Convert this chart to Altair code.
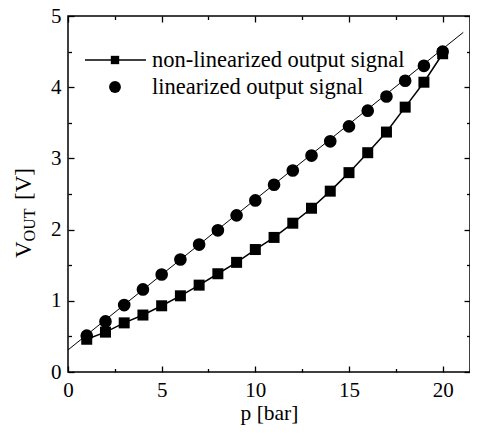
import altair as alt
import pandas as pd

# ---- data ----
p_bar = list(range(1, 21))
v_nonlinearized = [0.46, 0.56, 0.69, 0.80, 0.93, 1.07, 1.22, 1.38, 1.54, 1.72,
                   1.89, 2.09, 2.30, 2.54, 2.80, 3.08, 3.37, 3.72, 4.07, 4.47]
v_linearized = [0.51, 0.71, 0.94, 1.16, 1.37, 1.58, 1.79, 1.99, 2.20, 2.41,
                2.63, 2.83, 3.04, 3.24, 3.45, 3.67, 3.87, 4.09, 4.30, 4.50]
fit_p = [0.0, 21.1]
fit_v = [0.31, 4.77]

x_major = [0, 5, 10, 15, 20]
x_minor = [2.5, 7.5, 12.5, 17.5]
y_major = [0, 1, 2, 3, 4, 5]
y_minor = [0.5, 1.5, 2.5, 3.5, 4.5]

legend_labels = ["non-linearized output signal", "linearized output signal"]
x_title = "p [bar]"
y_title_parts = ["V", "OUT", "[V]"]

FONT = "'Liberation Serif', 'Times New Roman', Times, serif"

df = pd.DataFrame({"p": p_bar, "nonlin": v_nonlinearized, "lin": v_linearized})
fit_df = pd.DataFrame({"p": fit_p, "v": fit_v})

xscale = alt.Scale(domain=[0, 21.46], nice=False, zero=False)
yscale = alt.Scale(domain=[0, 5], nice=False, zero=False)

main_x_axis = alt.Axis(orient="bottom", values=x_major, ticks=False, tickSize=0, domain=False,
                       grid=False, labelFont=FONT, labelFontSize=21, labelColor="black",
                       labelPadding=7, labelFlush=False, title=x_title, titleFont=FONT,
                       titleFontSize=21.5, titleFontWeight="normal", titleColor="black",
                       titlePadding=2)
main_y_axis = alt.Axis(orient="left", values=y_major, ticks=False, tickSize=0, domain=False,
                       grid=False, labelFont=FONT, labelFontSize=21, labelColor="black",
                       labelPadding=7, labelFlush=False, title=None)

fit_line = alt.Chart(fit_df).mark_line(color="black", strokeWidth=1).encode(
    x=alt.X("p:Q", scale=xscale, axis=main_x_axis),
    y=alt.Y("v:Q", scale=yscale, axis=main_y_axis),
)


def tick_layer(ox, oy, xv, yv, size):
    return alt.Chart(fit_df).mark_line(opacity=0).encode(
        x=alt.X("p:Q", scale=xscale,
                axis=alt.Axis(orient=ox, values=xv, offset=-size, tickSize=size, tickWidth=1.3,
                              tickColor="black", labels=False, domain=False, grid=False, title=None)),
        y=alt.Y("v:Q", scale=yscale,
                axis=alt.Axis(orient=oy, values=yv, offset=-size, tickSize=size, tickWidth=1.3,
                              tickColor="black", labels=False, domain=False, grid=False, title=None)),
    )


t1 = tick_layer("bottom", "left", x_major, y_major, 6)
t2 = tick_layer("bottom", "left", x_minor, y_minor, 3.5)
t3 = tick_layer("top", "right", x_major, y_major, 6)
t4 = tick_layer("top", "right", x_minor, y_minor, 3.5)

nonlin_line = alt.Chart(df).mark_line(color="black", strokeWidth=1.5).encode(
    x=alt.X("p:Q", scale=xscale, axis=None),
    y=alt.Y("nonlin:Q", scale=yscale, axis=None),
)
nonlin_pts = alt.Chart(df).mark_point(shape="square", filled=True, color="black",
                                      size=121, opacity=1).encode(
    x=alt.X("p:Q", scale=xscale, axis=None),
    y=alt.Y("nonlin:Q", scale=yscale, axis=None),
)
lin_pts = alt.Chart(df).mark_point(shape="circle", filled=True, color="black",
                                   size=160, opacity=1).encode(
    x=alt.X("p:Q", scale=xscale, axis=None),
    y=alt.Y("lin:Q", scale=yscale, axis=None),
)

# ---- legend (drawn inside the plot) ----
lab1 = pd.DataFrame({"t": [legend_labels[0]]})
lab2 = pd.DataFrame({"t": [legend_labels[1]]})
leg_rule = alt.Chart(lab1).mark_rule(color="black", strokeWidth=1.5).encode(
    x=alt.value(17), x2=alt.value(78), y=alt.value(44))
leg_sq = alt.Chart(lab1).mark_point(shape="square", filled=True, color="black", size=70,
                                    opacity=1).encode(x=alt.value(47), y=alt.value(44))
leg_ci = alt.Chart(lab2).mark_point(shape="circle", filled=True, color="black", size=140,
                                    opacity=1).encode(x=alt.value(47), y=alt.value(71))
leg_t1 = alt.Chart(lab1).mark_text(align="left", baseline="middle", font=FONT, fontSize=22.5,
                                   color="black").encode(x=alt.value(84), y=alt.value(44), text="t:N")
leg_t2 = alt.Chart(lab2).mark_text(align="left", baseline="middle", font=FONT, fontSize=22.5,
                                   color="black").encode(x=alt.value(84), y=alt.value(71), text="t:N")

# ---- y title with subscript ----
yt1 = pd.DataFrame({"t": [y_title_parts[0]]})
yt2 = pd.DataFrame({"t": [y_title_parts[1]]})
yt3 = pd.DataFrame({"t": [y_title_parts[2]]})
ytitle_v = alt.Chart(yt1).mark_text(align="left", baseline="alphabetic", angle=270, font=FONT,
                                    fontSize=23, color="black").encode(
    x=alt.value(-37), y=alt.value(242), text="t:N")
ytitle_sub = alt.Chart(yt2).mark_text(align="left", baseline="alphabetic", angle=270, font=FONT,
                                      fontSize=16, color="black").encode(
    x=alt.value(-33), y=alt.value(225.4), text="t:N")
ytitle_rest = alt.Chart(yt3).mark_text(align="left", baseline="alphabetic", angle=270, font=FONT,
                                       fontSize=23, color="black").encode(
    x=alt.value(-37), y=alt.value(184), text="t:N")

chart = alt.layer(
    fit_line, t1, t2, t3, t4, nonlin_line, nonlin_pts, lin_pts,
    leg_rule, leg_sq, leg_ci, leg_t1, leg_t2, ytitle_v, ytitle_sub, ytitle_rest,
).resolve_axis(x="independent", y="independent").properties(
    width=402, height=356,
    autosize=alt.AutoSizeParams(type="none"),
    padding={"left": 60, "top": 8, "right": 0, "bottom": 54},
).configure_view(stroke="black", strokeWidth=1.5)

chart.save("out.html", embed_options={"renderer": "svg", "actions": False})
